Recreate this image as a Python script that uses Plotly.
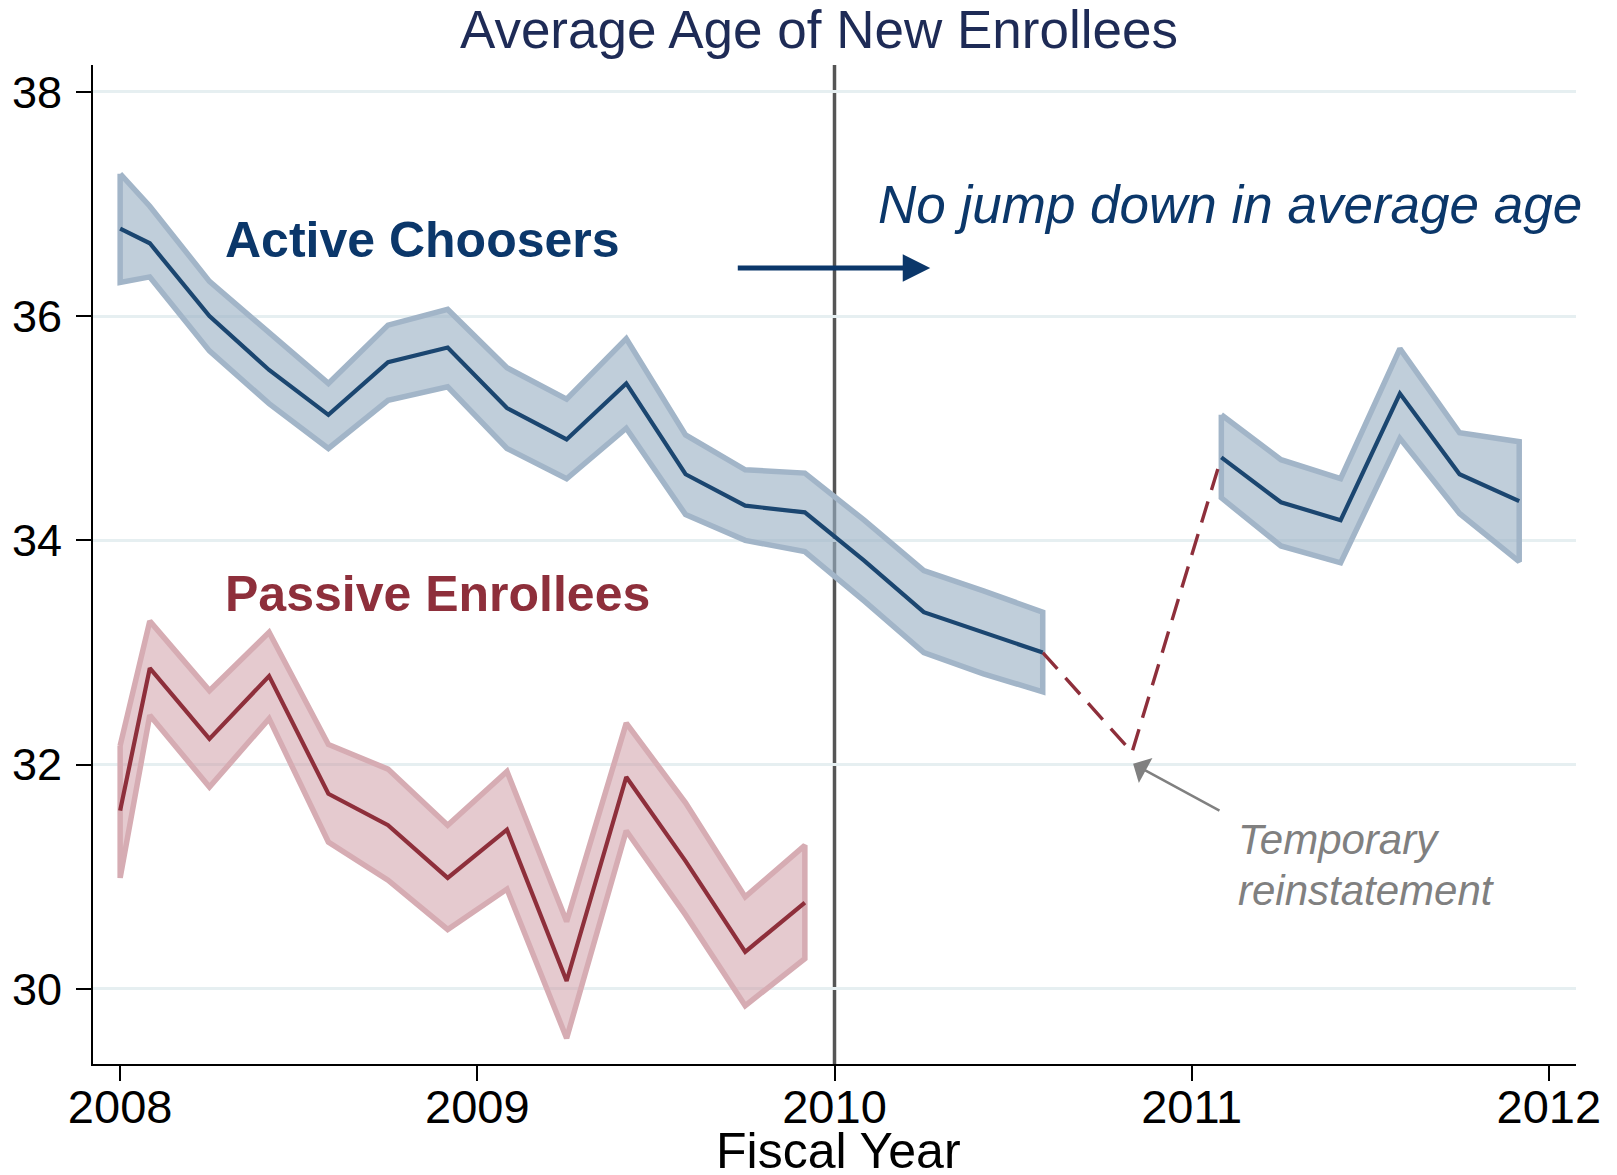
import plotly.graph_objects as go

# ---- data -------------------------------------------------------------
# Fiscal-year positions of the two-month enrollment cohorts
period_early = [2008.0, 2008.083, 2008.25, 2008.417, 2008.583, 2008.75, 2008.917,
                2009.083, 2009.25, 2009.417, 2009.583, 2009.75, 2009.917,
                2010.083, 2010.25, 2010.417, 2010.583]
period_late = [2011.083, 2011.25, 2011.417, 2011.583, 2011.75, 2011.917]

# Active choosers: mean age with confidence band
active_mean_early = [36.78, 36.65, 36.00, 35.52, 35.12, 35.59, 35.72, 35.18, 34.90,
                     35.40, 34.59, 34.31, 34.25, 33.82, 33.36, 33.18, 33.00]
active_hi_early = [37.27, 36.98, 36.31, 35.85, 35.40, 35.92, 36.06, 35.54, 35.26,
                   35.80, 34.94, 34.63, 34.60, 34.18, 33.73, 33.55, 33.36]
active_lo_early = [36.30, 36.35, 35.69, 35.22, 34.82, 35.25, 35.37, 34.82, 34.55,
                   35.00, 34.23, 34.00, 33.90, 33.46, 33.00, 32.81, 32.65]

active_mean_late = [34.74, 34.34, 34.18, 35.31, 34.59, 34.35]
active_hi_late = [35.12, 34.72, 34.55, 35.71, 34.96, 34.88]
active_lo_late = [34.38, 33.95, 33.80, 34.91, 34.24, 33.81]

# Passive enrollees (default enrollment in effect until FY2010)
period_passive = period_early[:13]
passive_mean = [31.59, 32.86, 32.23, 32.79, 31.74, 31.46, 30.99, 31.42, 30.07,
                31.89, 31.14, 30.33, 30.77]
passive_hi = [32.17, 33.28, 32.66, 33.18, 32.18, 31.96, 31.46, 31.94, 30.60,
              32.37, 31.66, 30.82, 31.28]
passive_lo = [30.99, 32.44, 31.80, 32.41, 31.31, 30.97, 30.53, 30.89, 29.56,
              31.41, 30.66, 29.85, 30.27]

# Temporary reinstatement bridge
bridge_period = [2010.583, 2010.833, 2011.083]
bridge_age = [33.00, 32.11, 34.74]

year_ticks = [2008, 2009, 2010, 2011, 2012]
year_labels = ["2008", "2009", "2010", "2011", "2012"]
age_ticks = [30, 32, 34, 36, 38]
age_labels = ["30", "32", "34", "36", "38"]

# ---- styles -------------------------------------------------------------
FONT = "Liberation Sans, Arial, Helvetica, sans-serif"
NAVY = "#0b376a"
BLUE_LINE = "#1b4670"
BLUE_FILL = "rgba(154,176,196,0.62)"
BLUE_EDGE = "#a2b5c8"
RED_LINE = "#8e2f3b"
RED_FILL = "rgba(204,150,160,0.50)"
RED_EDGE = "#d6acb3"
GRAY = "#808080"

fig = go.Figure()


def add_band(xs, lo, hi, fill, edge):
    px = list(xs) + list(xs)[::-1] + [xs[0]]
    py = list(hi) + list(lo)[::-1] + [hi[0]]
    fig.add_trace(go.Scatter(x=px, y=py, mode="lines", fill="toself",
                             fillcolor=fill, line=dict(color=edge, width=5.5),
                             hoverinfo="skip", showlegend=False))


add_band(period_early, active_lo_early, active_hi_early, BLUE_FILL, BLUE_EDGE)
add_band(period_late, active_lo_late, active_hi_late, BLUE_FILL, BLUE_EDGE)
add_band(period_passive, passive_lo, passive_hi, RED_FILL, RED_EDGE)

fig.add_trace(go.Scatter(x=bridge_period, y=bridge_age, mode="lines",
                         line=dict(color=RED_LINE, width=3.4, dash="22px,12px"),
                         showlegend=False))
for xs, ys, col in [(period_early, active_mean_early, BLUE_LINE),
                    (period_late, active_mean_late, BLUE_LINE),
                    (period_passive, passive_mean, RED_LINE)]:
    fig.add_trace(go.Scatter(x=xs, y=ys, mode="lines",
                             line=dict(color=col, width=4.2),
                             showlegend=False))

# policy change marker
fig.add_shape(type="line", xref="x", yref="paper", x0=2010, x1=2010, y0=0, y1=1,
              line=dict(color="#555555", width=3.5), layer="below")

annotations = [
    dict(text="Average Age of New Enrollees", xref="paper", yref="paper",
         x=0.4896, y=1.0352, xanchor="center", yanchor="middle", showarrow=False,
         font=dict(family=FONT, size=53, color="#1e2b56")),
    dict(text="Fiscal Year", xref="paper", yref="paper",
         x=0.503, y=-0.0875, xanchor="center", yanchor="middle", showarrow=False,
         font=dict(family=FONT, size=50, color="black")),
    dict(text="<b>Active Choosers</b>", xref="x", yref="y", x=2008.287, y=36.683,
         xanchor="left", yanchor="middle", showarrow=False,
         font=dict(family=FONT, size=50, color=NAVY)),
    dict(text="<b>Passive Enrollees</b>", xref="x", yref="y", x=2008.287, y=33.525,
         xanchor="left", yanchor="middle", showarrow=False,
         font=dict(family=FONT, size=50, color=RED_LINE)),
    dict(text="<i>No jump down in average age</i>", xref="x", yref="y",
         x=2010.117, y=37.0, xanchor="left", yanchor="middle", showarrow=False,
         font=dict(family=FONT, size=53, color=NAVY)),
    dict(text="<i>Temporary</i>", xref="x", yref="y", x=2011.125, y=31.335,
         xanchor="left", yanchor="middle", showarrow=False,
         font=dict(family=FONT, size=42, color=GRAY)),
    dict(text="<i>reinstatement</i>", xref="x", yref="y", x=2011.123, y=30.878,
         xanchor="left", yanchor="middle", showarrow=False,
         font=dict(family=FONT, size=42, color=GRAY)),
    dict(text="", xref="x", yref="y", axref="x", ayref="y",
         x=2010.268, y=36.43, ax=2009.725, ay=36.43, showarrow=True,
         arrowhead=2, arrowsize=1.1, arrowwidth=5, arrowcolor=NAVY),
    dict(text="", xref="x", yref="y", axref="x", ayref="y",
         x=2010.836, y=32.008, ax=2011.082, ay=31.583, showarrow=True,
         arrowhead=1, arrowsize=1.9, arrowwidth=2.5, arrowcolor=GRAY),
]

fig.update_layout(
    width=1617, height=1175,
    margin=dict(l=90, r=41, t=65, b=111),
    plot_bgcolor="white", paper_bgcolor="white",
    font=dict(family=FONT, color="black"),
    annotations=annotations,
    showlegend=False,
)
fig.update_xaxes(range=[2007.924, 2012.076], tickvals=year_ticks, ticktext=year_labels,
                 showgrid=False, zeroline=False, showline=True, linecolor="black",
                 linewidth=2, ticks="outside", ticklen=15, tickwidth=2,
                 tickcolor="black", tickfont=dict(family=FONT, size=47, color="black"),
                 ticklabelstandoff=-14)
fig.update_yaxes(range=[29.33, 38.24], tickvals=age_ticks, ticktext=age_labels,
                 showgrid=True, gridcolor="#e6eff1", gridwidth=3, zeroline=False,
                 showline=True, linecolor="black", linewidth=2, ticks="outside",
                 ticklen=15, tickwidth=2, tickcolor="black",
                 tickfont=dict(family=FONT, size=45, color="black"),
                 ticklabelstandoff=5)

fig.write_html("out.html")
